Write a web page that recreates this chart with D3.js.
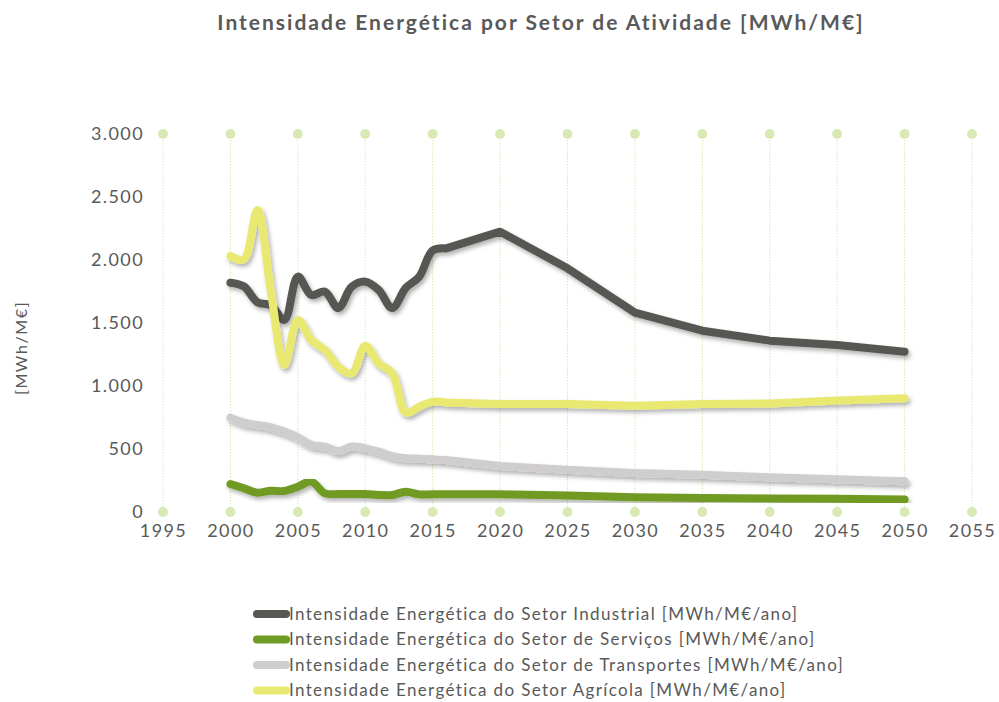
<!DOCTYPE html>
<html>
<head>
<meta charset="utf-8">
<script src="https://cdn.jsdelivr.net/npm/d3@7"></script>
<style>
  body { margin: 0; background: #fff; }
  svg { font-family: Lato, "Open Sans", sans-serif; }
</style>
</head>
<body>
<svg id="chart" width="999" height="702"></svg>
<script>
// --- data ---
var years = [2000, 2001, 2002, 2003, 2004, 2005, 2006, 2007, 2008, 2009, 2010,
             2011, 2012, 2013, 2014, 2015, 2016, 2020, 2025, 2030, 2035, 2040, 2045, 2050];

var industrial = [1820, 1790, 1665, 1640, 1525, 1868, 1722, 1749, 1619, 1788, 1828,
                  1762, 1619, 1778, 1868, 2075, 2092, 2225, 1934, 1582, 1439, 1360, 1325, 1272];
var services = [222, 188, 153, 169, 167, 201, 241, 148, 143, 143, 143,
                135, 135, 161, 140, 140, 140, 140, 130, 118, 112, 108, 105, 100];
var transport = [749, 709, 690, 672, 638, 593, 532, 519, 484, 519, 505,
                 479, 444, 426, 423, 418, 412, 365, 335, 310, 295, 275, 260, 245];
var agricultural = [2032, 2005, 2397, 1750, 1167, 1524, 1365, 1286, 1153, 1101, 1317,
                    1180, 1101, 790, 835, 876, 870, 857, 857, 844, 857, 862, 884, 902];

var seriesNames = [
    'Intensidade Energética do Setor Industrial  [MWh/M€/ano]',
    'Intensidade Energética do Setor de Serviços [MWh/M€/ano]',
    'Intensidade Energética do Setor de Transportes [MWh/M€/ano]',
    'Intensidade Energética do Setor Agrícola [MWh/M€/ano]'
];
var seriesColors = ['#575753', '#6f9a23', '#cfcdcd', '#e9e971'];
var xTicks = [1995, 2000, 2005, 2010, 2015, 2020, 2025, 2030, 2035, 2040, 2045, 2050, 2055];
var yTicks = [0, 500, 1000, 1500, 2000, 2500, 3000];

var series = [industrial, services, transport, agricultural];

var svg = d3.select('#chart'),
    textColor = '#595959',
    gridColor = '#d9e9b5';

var x = d3.scaleLinear().domain([1995, 2055]).range([163, 972]),
    y = d3.scaleLinear().domain([0, 3000]).range([512, 134]);

var locale = d3.formatLocale({ decimal: ',', thousands: '.', grouping: [3], currency: ['', '€'] }),
    fmt = locale.format(',');

var defs = svg.append('defs');
var shadow = defs.append('filter')
    .attr('id', 'shadow')
    .attr('x', '-10%').attr('y', '-10%')
    .attr('width', '120%').attr('height', '130%');
shadow.append('feDropShadow')
    .attr('dx', 2).attr('dy', 3)
    .attr('stdDeviation', 2)
    .attr('flood-color', '#000')
    .attr('flood-opacity', 0.3);

// title
svg.append('text')
    .attr('x', 541).attr('y', 30)
    .attr('text-anchor', 'middle')
    .attr('font-size', 21).attr('font-weight', 'bold')
    .attr('letter-spacing', '2px')
    .attr('fill', textColor)
    .text('Intensidade Energética por Setor de Atividade [MWh/M€]');

// vertical grid with dots top and bottom
var grid = svg.append('g').attr('class', 'grid');
grid.selectAll('line')
    .data(xTicks)
    .enter().append('line')
    .attr('x1', function(d) { return x(d); })
    .attr('x2', function(d) { return x(d); })
    .attr('y1', y(3000)).attr('y2', y(0))
    .attr('stroke', gridColor)
    .attr('stroke-width', 1)
    .attr('stroke-dasharray', '1.5,1.5');
[0, 3000].forEach(function(v) {
    grid.append('g').selectAll('circle')
        .data(xTicks)
        .enter().append('circle')
        .attr('cx', function(d) { return x(d); })
        .attr('cy', y(v))
        .attr('r', 5)
        .attr('fill', gridColor);
});

// axes (labels only)
var yAxis = svg.append('g')
    .attr('transform', 'translate(150,0)')
    .call(d3.axisLeft(y).tickValues(yTicks).tickFormat(fmt).tickSize(0).tickPadding(6));
yAxis.select('.domain').remove();
yAxis.selectAll('text')
    .attr('font-size', 18).attr('fill', textColor)
    .attr('letter-spacing', '1.4px')
    .attr('font-family', 'Lato, sans-serif');

var xAxis = svg.append('g')
    .attr('transform', 'translate(0,' + y(0) + ')')
    .call(d3.axisBottom(x).tickValues(xTicks).tickFormat(d3.format('d')).tickSize(0).tickPadding(12));
xAxis.select('.domain').remove();
xAxis.selectAll('text')
    .attr('font-size', 18).attr('fill', textColor)
    .attr('letter-spacing', '1.4px')
    .attr('font-family', 'Lato, sans-serif');

svg.append('text')
    .attr('transform', 'translate(27,' + 348 + ') rotate(-90)')
    .attr('text-anchor', 'middle')
    .attr('font-size', 16).attr('fill', textColor)
    .attr('letter-spacing', '1.6px')
    .text('[MWh/M€]');

// lines: smooth through the yearly part, straight between the 5-year points
var splitIdx = years.indexOf(2016);
var smooth = d3.line()
    .x(function(d) { return x(d[0]); })
    .y(function(d) { return y(d[1]); })
    .curve(d3.curveCatmullRom.alpha(0.5));
var straight = d3.line()
    .x(function(d) { return x(d[0]); })
    .y(function(d) { return y(d[1]); });

function seriesPath(s) {
    var pts = years.map(function(yr, i) { return [yr, s[i]]; });
    return smooth(pts.slice(0, splitIdx + 1)) + straight(pts.slice(splitIdx)).replace(/^M/, 'L');
}

svg.append('g').selectAll('path')
    .data(series)
    .enter().append('path')
    .attr('d', seriesPath)
    .attr('fill', 'none')
    .attr('stroke', function(d, i) { return seriesColors[i]; })
    .attr('stroke-width', 8)
    .attr('stroke-linecap', 'round')
    .attr('stroke-linejoin', 'round')
    .attr('filter', 'url(#shadow)');

// legend
var legend = svg.append('g').attr('class', 'legend');
var rows = legend.selectAll('g')
    .data(seriesNames)
    .enter().append('g')
    .attr('transform', function(d, i) { return 'translate(0,' + (614 + i * 25.5) + ')'; });
rows.append('line')
    .attr('x1', 257).attr('x2', 286)
    .attr('stroke', function(d, i) { return seriesColors[i]; })
    .attr('stroke-width', 8)
    .attr('stroke-linecap', 'round');
rows.append('text')
    .attr('x', 289).attr('y', 0).attr('dy', '0.35em')
    .attr('font-size', 17).attr('fill', textColor)
    .attr('letter-spacing', '1.35px')
    .text(function(d) { return d; });
</script>
</body>
</html>
